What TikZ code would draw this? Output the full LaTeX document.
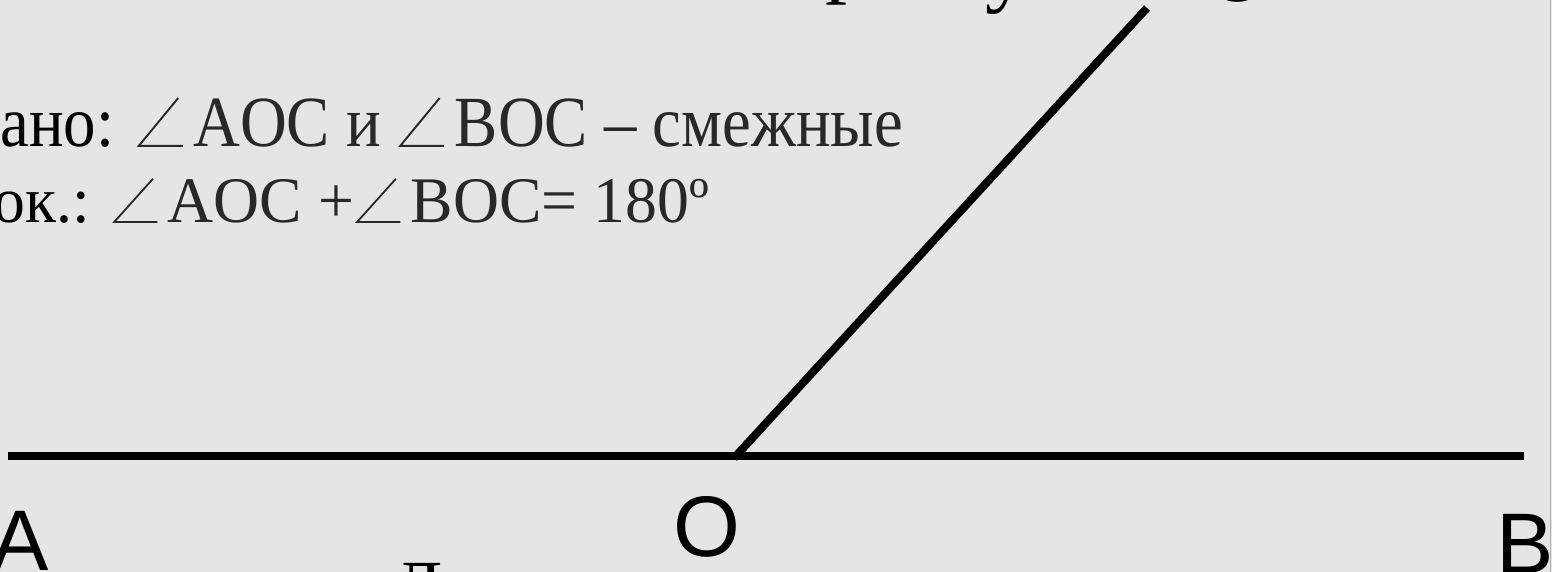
\documentclass[tikz,border=0pt]{standalone}
\usepackage{fontspec}
\usepackage{graphicx}
\setmainfont{Liberation Serif}
\newfontfamily\labf{Liberation Sans}
\definecolor{bg}{RGB}{229,229,229}
\definecolor{txt}{RGB}{40,40,40}
\newcommand{\myang}{\hspace{0.03em}\tikz[baseline=0pt]{\draw[line width=0.028em, txt, line join=miter] (0.61em,0.68em) -- (0em,0.014em) -- (0.68em,0.014em);}\hspace{0.15em}}
\begin{document}
\begin{tikzpicture}[x=1bp,y=-1bp,
  ptlabel/.style={font=\labf\fontsize{86bp}{86bp}\selectfont, inner sep=0pt, anchor=base west},
  bodytext/.style={inner sep=0pt, anchor=base west},
  titlefrag/.style={font=\fontsize{88bp}{88bp}\selectfont, inner sep=0pt, anchor=base west},
  geo/.style={line width=8bp, black}]
\useasboundingbox (0,0) rectangle (1552,572);
\fill[bg] (0,0) rectangle (1552,572);
\draw[gray!60, line width=1bp] (1550,0) -- (1550,572);
\begin{scope}
\clip (0,0) rectangle (1552,572);
% title fragments
\node[titlefrag] (t1) at (825,-13) {р};
\node[titlefrag] (t2) at (985,-4) {у};
\node[inner sep=0pt, anchor=north, font=\fontsize{72bp}{72bp}\selectfont] (proof) at (418,563) {Д};
% text lines
\node[bodytext] (given) at (-44,147) {\scalebox{0.9}[1]{\fontsize{72bp}{72bp}\selectfont Дано: {\color{txt}\myang AOC и \myang BOC – смежные}}};
\node[bodytext] (prove) at (-50,223) {\scalebox{0.98}[1]{\fontsize{65bp}{65bp}\selectfont Док.: {\color{txt}\myang AOC +\myang BOC= 180º}}};
% geometry
\coordinate (A) at (8,456);
\coordinate (B) at (1524,456);
\coordinate (O) at (734,458);
\coordinate (C) at (1147,8);
\draw[geo] (A) -- (B);
\draw[geo] (O) -- (C);
\node[ptlabel] (lA) at (-9,570) {A};
\node[ptlabel] (lO) at (673,556) {O};
\node[ptlabel] (lB) at (1496,573) {B};
\node[ptlabel, anchor=base] (lC) at (1236,2) {C};
\end{scope}
\end{tikzpicture}
\end{document}
